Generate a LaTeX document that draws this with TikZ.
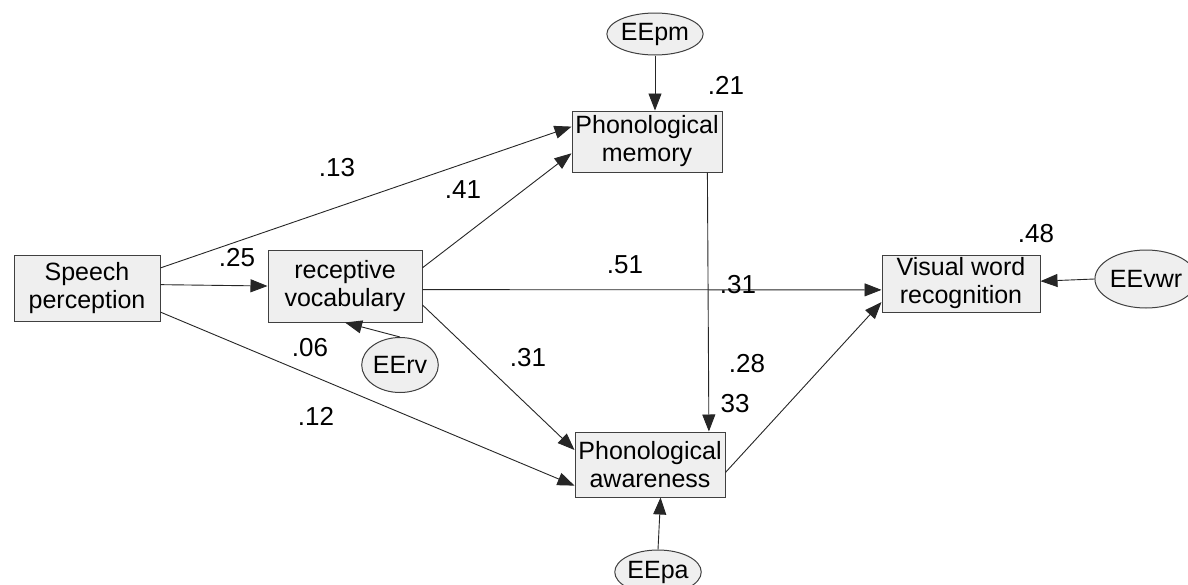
\documentclass[tikz,border=0pt]{standalone}
\usepackage{fontspec}
\setmainfont{Liberation Sans}
\usetikzlibrary{arrows.meta,shapes.geometric,calc}
\definecolor{boxfill}{HTML}{EFEFEF}
\definecolor{boxline}{HTML}{404040}
\tikzset{
  var/.style={draw=boxline,line width=1pt,fill=boxfill,inner sep=0pt,
    align=center,font=\fontsize{25}{28}\selectfont},
  err/.style={draw=boxline,line width=1pt,fill=boxfill,ellipse,inner sep=0pt,
    font=\fontsize{25}{28}\selectfont},
  path/.style={draw=black!85,line width=0.9pt,-{Triangle[length=17pt,width=13pt]}},
  coef/.style={font=\fontsize{26}{28}\selectfont,inner sep=0pt}
}
\begin{document}
\begin{tikzpicture}[x=1pt,y=-1pt]
\useasboundingbox[fill=white] (0,0) rectangle (1188,584);

% observed variables
\node[var,minimum width=146pt,minimum height=66pt] (sp) at (87,288) {Speech\\perception};
\node[var,minimum width=154pt,minimum height=72pt] (rv) at (345,286) {receptive\\vocabulary};
\node[var,minimum width=150pt,minimum height=61pt] (pm) at (647,141.5) {Phonological\\memory};
\node[var,minimum width=150pt,minimum height=65pt] (pa) at (650,464.5) {Phonological\\awareness};
\node[var,minimum width=158pt,minimum height=57pt] (vwr) at (961,283.5) {Visual word\\recognition};

% error terms
\node[err,minimum width=72pt,minimum height=42pt] (epm) at (655,34) {EEpm};
\node[err,minimum width=72pt,minimum height=44pt] (epa) at (658,572) {EEpa};
\node[err,minimum width=55pt,minimum height=55pt] (erv) at (400,365) {EErv};
\node[err,minimum width=78pt,minimum height=58pt] (evwr) at (1146,279) {EEvwr};

% structural paths
\draw[path] ($(sp.north east)!0.2!(sp.south east)$) -- ($(pm.north west)!0.26!(pm.south west)$);
\draw[path] ($(sp.north east)!0.45!(sp.south east)$) -- ($(rv.north west)!0.5!(rv.south west)$);
\draw[path] ($(sp.north east)!0.86!(sp.south east)$) -- ($(pa.north west)!0.82!(pa.south west)$);
\draw[path] ($(rv.north east)!0.25!(rv.south east)$) -- ($(pm.north west)!0.69!(pm.south west)$);
\draw[path] ($(rv.north east)!0.55!(rv.south east)$) -- ($(vwr.north west)!0.61!(vwr.south west)$);
\draw[path] ($(rv.north east)!0.76!(rv.south east)$) -- ($(pa.north west)!0.28!(pa.south west)$);
\draw[path] ($(pm.south west)!0.9!(pm.south east)$) -- ($(pa.north west)!0.89!(pa.north east)$);
\draw[path] ($(pa.north east)!0.62!(pa.south east)$) -- ($(vwr.north west)!0.82!(vwr.south west)$);

% error paths
\draw[path] (epm) -- (epm |- pm.north);
\draw[path] (epa.north) -- ($(pa.south west)!0.57!(pa.south east)$);
\draw[path] (erv.north) -- (rv.south);
\draw[path] (evwr.west) -- ($(vwr.north east)!0.46!(vwr.south east)$);

% coefficients
\node[coef] (c1) at (337,168) {.13};
\node[coef] (c2) at (463,190) {.41};
\node[coef] (c3) at (237,258) {.25};
\node[coef] (c4) at (625,265) {.51};
\node[coef] (c5) at (738,285) {.31};
\node[coef] (c6) at (310,348) {.06};
\node[coef] (c7) at (528,358) {.31};
\node[coef] (c8) at (316,416) {.12};
\node[coef] (c9) at (747,364) {.28};
\node[coef] (c10) at (735,404) {33};
\node[coef] (c11) at (726,85) {.21};
\node[coef] (c12) at (1036,234) {.48};
\end{tikzpicture}
\end{document}
